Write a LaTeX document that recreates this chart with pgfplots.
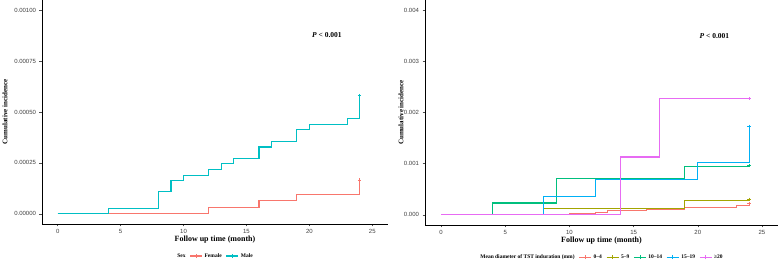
\documentclass[border=0pt]{standalone}
\usepackage{fontspec}
\setmainfont{Liberation Serif}
\setsansfont{Liberation Sans}
\usepackage{pgfplots}
\pgfplotsset{compat=1.18}
\definecolor{cF}{HTML}{F8766D}
\definecolor{cM}{HTML}{00BFC4}
\definecolor{cA}{HTML}{F8766D}
\definecolor{cB}{HTML}{A3A500}
\definecolor{cC}{HTML}{00BF7D}
\definecolor{cD}{HTML}{00B0F6}
\definecolor{cE}{HTML}{E76BF3}
\pgfplotsset{
  kmaxis/.style={
    scale only axis,
    anchor=south west,
    axis lines=left,
    axis line style={-, black, line width=0.6pt},
    tick align=outside,
    major tick length=2.5pt,
    tick style={black!70, line width=0.5pt},
    xmin=-1.25, xmax=26.25,
    xtick={0,5,10,15,20,25},
    /pgf/number format/assume math mode=true,
    ticklabel style={font=\sffamily\fontsize{6}{6}\selectfont, text=black!75},
    xticklabel style={yshift=1pt},
    scaled y ticks=false,
    xlabel={Follow up time (month)},
    ylabel={Cumulative incidence},
    every axis x label/.style={at={(axis description cs:0.5,-0.071)}, anchor=center, font=\bfseries\fontsize{8}{8}\selectfont},
    legend style={draw=none, fill=none, font=\bfseries\fontsize{5.5}{5.5}\selectfont,
      at={(axis description cs:0.5,-0.143)}, anchor=center, inner sep=0pt,
      /tikz/every even column/.append style={column sep=2pt}},
    legend columns=-1,
    legend image code/.code={\draw[#1,mark=none] (0pt,0pt) -- (12pt,0pt); \draw[#1,mark=none,line width=0.5pt] (6pt,-2pt)--(6pt,2pt) (4pt,0pt)--(8pt,0pt);},
    every axis plot/.append style={line width=1.1pt, const plot},
  }
}
\begin{document}
\begin{tikzpicture}
\useasboundingbox (0,0) rectangle (778pt,261pt);
\begin{axis}[kmaxis,
  at={(42pt,37pt)}, width=346pt, height=224pt,
  ymin=-0.00005, ymax=0.00105,
  ytick={0,0.00025,0.0005,0.00075,0.001},
  yticklabels={0.00000,0.00025,0.00050,0.00075,0.00100},
  every axis y label/.style={at={(axis description cs:-0.107,0.5)}, rotate=90, anchor=center, font=\bfseries\fontsize{7}{7}\selectfont},
]
\addlegendimage{empty legend}\addlegendentry{Sex}
\addplot[cF, mark=+, mark indices={5}, mark options={line width=0.5pt, scale=0.9}] coordinates {
(0,0) (12,0.00003) (16,0.000064) (19,0.000097) (24,0.000167)};
\addlegendentry{Female}
\addplot[cM, mark=+, mark indices={14}, mark options={line width=0.5pt, scale=0.9}] coordinates {
(0,0) (4,0.000027) (8,0.000109) (9,0.000163) (10,0.00019) (12,0.000217) (13,0.000247)
(14,0.000273) (16,0.000328) (17,0.000356) (19,0.000414) (20,0.00044) (23,0.000469) (24,0.00058)};
\addlegendentry{Male}
\node[font=\bfseries\fontsize{7.5}{7.5}\selectfont] at (axis cs:21.4,0.00088) {\textit{P} < 0.001};
\end{axis}
\begin{axis}[kmaxis,
  at={(425pt,36pt)}, width=353pt, height=225pt,
  ymin=-0.0002, ymax=0.0042,
  ytick={0,0.001,0.002,0.003,0.004},
  yticklabels={0.000,0.001,0.002,0.003,0.004},
  every axis y label/.style={at={(axis description cs:-0.068,0.5)}, rotate=90, anchor=center, font=\bfseries\fontsize{7}{7}\selectfont},
]
\addlegendimage{empty legend}\addlegendentry{Mean diameter of TST induration (mm)}
\addplot[cA, mark=+, mark indices={9}, mark options={line width=0.5pt, scale=0.9}] coordinates {
(0,0) (8,0.00001) (10,0.00003) (12,0.00005) (13,0.00008) (16,0.00011) (19,0.00015) (23,0.00018) (24,0.00022)};
\addlegendentry{0–4}
\addplot[cB, mark=+, mark indices={4}, mark options={line width=0.5pt, scale=0.9}] coordinates {
(0,0) (8,0.00013) (19,0.00028) (24,0.0003)};
\addlegendentry{5–9}
\addplot[cC, mark=+, mark indices={5}, mark options={line width=0.5pt, scale=0.9}] coordinates {
(0,0) (4,0.00023) (9,0.00071) (19,0.00095) (24,0.00096)};
\addlegendentry{10–14}
\addplot[cD, mark=+, mark indices={5}, mark options={line width=0.5pt, scale=0.9}] coordinates {
(0,0) (8,0.00035) (12,0.00069) (20,0.00103) (24,0.00173)};
\addlegendentry{15–19}
\addplot[cE, mark=+, mark indices={4}, mark options={line width=0.5pt, scale=0.9}] coordinates {
(0,0) (14,0.00113) (17,0.00227) (24,0.00227)};
\addlegendentry{≥20}
\node[font=\bfseries\fontsize{7.5}{7.5}\selectfont] at (axis cs:21.3,0.0035) {\textit{P} < 0.001};
\end{axis}
\end{tikzpicture}
\end{document}
